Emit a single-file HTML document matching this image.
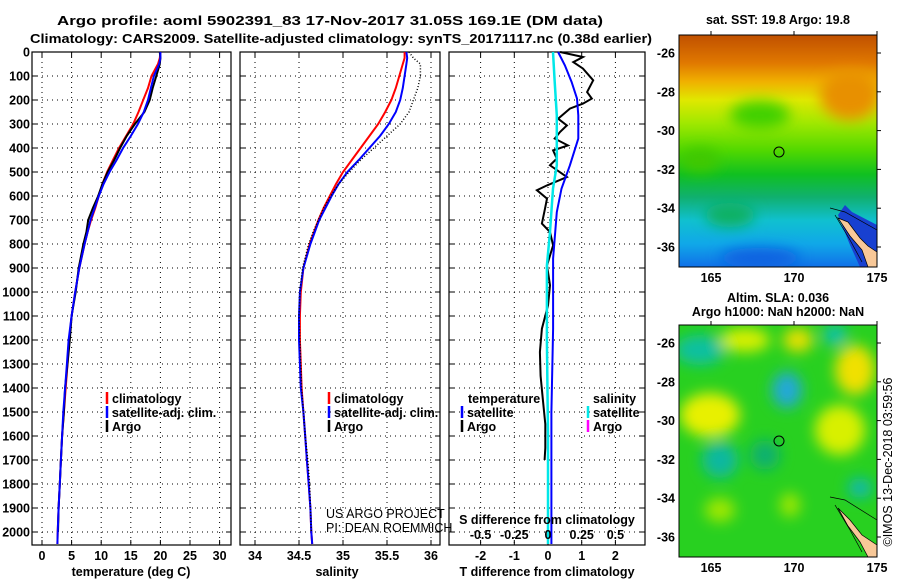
<!DOCTYPE html>
<html><head><meta charset="utf-8"><style>
html,body{margin:0;padding:0;background:#fff;}
svg{display:block;font-family:"Liberation Sans",sans-serif;}
.b{font-weight:bold;font-size:12.5px;}
</style></head><body>
<svg id="chart" width="900" height="580" viewBox="0 0 900 580">
<defs>
<linearGradient id="sstg" x1="0" y1="0" x2="0" y2="1">
<stop offset="0" stop-color="#c05000"/><stop offset="0.12" stop-color="#e07800"/>
<stop offset="0.2" stop-color="#f0b000"/><stop offset="0.28" stop-color="#e0e800"/>
<stop offset="0.38" stop-color="#a0e800"/><stop offset="0.5" stop-color="#50d800"/>
<stop offset="0.6" stop-color="#10c020"/><stop offset="0.7" stop-color="#10b070"/>
<stop offset="0.8" stop-color="#10c0d0"/><stop offset="0.9" stop-color="#10a8e8"/>
<stop offset="1" stop-color="#1070e8"/></linearGradient>
<filter id="blur"><feGaussianBlur stdDeviation="7"/></filter>
<clipPath id="c1"><rect x="679" y="35" width="198" height="232"/></clipPath>
<clipPath id="c2"><rect x="679" y="325" width="198" height="232"/></clipPath>
</defs>
<text class="b" x="330" y="25" text-anchor="middle" font-size="15" textLength="546" lengthAdjust="spacingAndGlyphs">Argo profile: aoml 5902391_83 17-Nov-2017 31.05S 169.1E (DM data)</text>
<text class="b" x="341" y="43" text-anchor="middle" font-size="15" textLength="622" lengthAdjust="spacingAndGlyphs">Climatology: CARS2009. Satellite-adjusted climatology: synTS_20171117.nc (0.38d earlier)</text>
<g id="panels"></g>
<g id="maps">
<g clip-path="url(#c1)">
<rect x="679" y="35" width="198" height="232" fill="url(#sstg)"/>
<g filter="url(#blur)">
<ellipse cx="850" cy="95" rx="30" ry="25" fill="#e89000"/>
<ellipse cx="760" cy="115" rx="30" ry="14" fill="#40d000"/>
<ellipse cx="700" cy="160" rx="20" ry="12" fill="#40c800"/>
<ellipse cx="730" cy="215" rx="25" ry="12" fill="#10b060"/>
<ellipse cx="760" cy="258" rx="40" ry="10" fill="#1060e0"/>
</g>
<path d="M838,215 L845,205 L852,212 L877,225 L877,267 L860,267 L850,245 Z" fill="#1840d0"/>
<path d="M838,218 L848,222 L860,238 L868,246 L877,252 L877,267 L868,267 L862,250 L850,236 Z" fill="#f8c898" stroke="#000" stroke-width="0.7"/>
<path d="M830,208 L845,212 L877,230" fill="none" stroke="#000" stroke-width="0.7"/>
<path d="M835,215 L850,240 L862,262" fill="none" stroke="#000" stroke-width="0.7"/>
<circle cx="779" cy="152" r="5" fill="none" stroke="#000" stroke-width="1"/>
</g>
<rect x="679" y="35" width="198" height="232" fill="none" stroke="#000"/>
<g clip-path="url(#c2)">
<rect x="679" y="325" width="198" height="232" fill="#28d020"/>
<g filter="url(#blur)">
<ellipse cx="700" cy="350" rx="25" ry="15" fill="#10c0a0"/>
<ellipse cx="745" cy="340" rx="25" ry="12" fill="#d8f000"/>
<ellipse cx="798" cy="340" rx="15" ry="12" fill="#e8e000"/>
<ellipse cx="835" cy="335" rx="12" ry="10" fill="#10c0b0"/>
<ellipse cx="855" cy="370" rx="20" ry="25" fill="#f0e000"/>
<ellipse cx="787" cy="390" rx="15" ry="18" fill="#20a8d8"/>
<ellipse cx="710" cy="415" rx="30" ry="22" fill="#e8f000"/>
<ellipse cx="840" cy="430" rx="25" ry="25" fill="#d8f000"/>
<ellipse cx="720" cy="460" rx="18" ry="18" fill="#10b8a0"/>
<ellipse cx="765" cy="455" rx="15" ry="15" fill="#10b070"/>
<ellipse cx="860" cy="488" rx="12" ry="10" fill="#10b8b0"/>
<ellipse cx="720" cy="510" rx="15" ry="12" fill="#a0e800"/>
<ellipse cx="790" cy="505" rx="10" ry="12" fill="#a0e800"/>
</g>
<path d="M838,508 L850,520 L862,535 L877,545 L877,557 L868,557 L860,542 L848,526 Z" fill="#f8c898" stroke="#000" stroke-width="0.7"/>
<path d="M830,497 L845,500 L877,520" fill="none" stroke="#000" stroke-width="0.7"/>
<path d="M835,505 L850,530 L862,552" fill="none" stroke="#000" stroke-width="0.7"/>
<circle cx="779" cy="441" r="5" fill="none" stroke="#000" stroke-width="1"/>
</g>
<rect x="679" y="325" width="198" height="232" fill="none" stroke="#000"/>
<text class="b" x="778" y="24" text-anchor="middle">sat. SST: 19.8 Argo: 19.8</text>
<text class="b" x="778" y="302" text-anchor="middle">Altim. SLA: 0.036</text>
<text class="b" x="778" y="316" text-anchor="middle">Argo h1000: NaN h2000: NaN</text>
<text x="892" y="462" font-size="12.5" text-anchor="middle" transform="rotate(-90 892 462)">©IMOS 13-Dec-2018 03:59:56</text>
</g>
</svg>
<script>
// Profile data
const depths = [0,25,50,100,150,200,250,300,350,400,450,500,550,600,650,700,750,800,900,1000,1100,1200,1300,1400,1500,1600,1700,1800,1900,2000,2050];
const tempClim = [20.0,19.9,19.6,18.5,17.9,17.1,16.3,15.4,14.2,13.0,12.0,11.0,10.2,9.6,9.0,8.3,7.7,7.2,6.3,5.6,5.0,4.6,4.3,4.0,3.7,3.4,3.2,3.0,2.8,2.65,2.6];
const tempSat = [20.0,20.0,19.8,18.9,18.4,17.9,17.2,16.2,15.0,13.7,12.6,11.4,10.4,9.6,8.9,8.2,7.7,7.2,6.3,5.6,5.0,4.5,4.2,3.9,3.6,3.4,3.2,3.0,2.8,2.65,2.6];
const argoDepths = [0,25,50,100,150,200,250,300,350,400,450,500,550,600,650,700,750,800,900,1000,1100,1200,1300,1400,1500,1600,1700,1800,1900,2000];
const tempArgo = [19.9,20.0,19.9,19.3,18.7,18.2,17.3,15.7,14.3,13.2,12.2,11.1,10.2,9.5,8.6,7.8,7.5,7.0,6.2,5.7,5.0,4.7,4.3,3.9,3.7,3.4,3.2,3.0,2.8,2.7];
const salClim = [35.7,35.7,35.68,35.64,35.6,35.55,35.48,35.4,35.3,35.2,35.1,35.0,34.92,34.85,34.78,34.72,34.67,34.62,34.55,34.52,34.51,34.51,34.52,34.53,34.55,34.57,34.59,34.61,34.63,34.64,34.65];
const salSat = [35.72,35.73,35.72,35.7,35.68,35.65,35.6,35.52,35.42,35.3,35.18,35.05,34.95,34.87,34.8,34.73,34.68,34.63,34.55,34.51,34.5,34.5,34.51,34.52,34.55,34.57,34.59,34.61,34.63,34.64,34.65];
const salArgo = [35.75,35.8,35.88,35.88,35.85,35.8,35.75,35.65,35.5,35.35,35.2,35.07,34.95,34.86,34.78,34.72,34.66,34.61,34.54,34.51,34.5,34.51,34.52,34.53,34.55,34.57,34.6,34.62,34.63,34.64];
const tdArgoDepth = [0,21,42,69,118,167,194,215,236,278,306,333,361,389,410,444,472,521,556,576,611,653,715,750,806,889,972,1056,1153,1250,1350,1450,1550,1650,1700];
const tdArgo = [0.36,1.04,0.75,1.04,1.34,1.16,1.3,1.04,0.65,0.3,0.56,0.36,0.2,0.59,0.15,0.26,0.06,0.56,-0.03,-0.33,-0.03,-0.09,-0.18,0.06,0.15,-0.03,0.06,0.0,-0.18,-0.24,-0.22,-0.15,-0.08,-0.08,-0.1];
const tdSatDepth = [0,56,125,194,264,361,472,569,667,861,1153,1500,2000,2050];
const tdSat = [0.3,0.5,0.7,0.86,0.9,0.9,0.65,0.4,0.26,0.15,0.15,0.1,0.1,0.1];
const sdSatDepth = [0,125,264,472,569,750,889,1200,1600,2000,2050];
const sdSat = [0.037,0.05,0.065,0.065,0.037,0.015,-0.008,-0.008,0.0,0.0,0.0];
const depthTicks = [0,100,200,300,400,500,600,700,800,900,1000,1100,1200,1300,1400,1500,1600,1700,1800,1900,2000];
const tempTicks = [0,5,10,15,20,25,30];
const salTicks = [34,34.5,35,35.5,36];
const salTickLabels = ["34","34.5","35","35.5","36"];
const tdTicks = [-2,-1,0,1,2];
const sdTicks = [-0.5,-0.25,0,0.25,0.5];
const sdTickLabels = ["-0.5","-0.25","0","0.25","0.5"];

const NS='http://www.w3.org/2000/svg';
const g=document.getElementById('panels');
function mk(tag,attrs,parent){const e=document.createElementNS(NS,tag);for(const k in attrs)e.setAttribute(k,attrs[k]);(parent||g).appendChild(e);return e;}
const yD=d=>52+d*0.24;
const xT=t=>42+t*5.92;
const xS=s=>255+(s-34)*88;
const xD=t=>548+t*33.7;
const TOP=52,BOT=545;
function frame(x0,x1,name,ticks,fx,labels,showY){
  const grp=mk('g',{});
  
  
  depthTicks.forEach(d=>{
    mk('line',{x1:x0,x2:x1,y1:yD(d),y2:yD(d),stroke:'#000','stroke-dasharray':'1,4','stroke-width':1},grp);
    mk('line',{x1:x0,x2:x0+5,y1:yD(d),y2:yD(d),stroke:'#000'},grp);
    mk('line',{x1:x1-5,x2:x1,y1:yD(d),y2:yD(d),stroke:'#000'},grp);
    if(showY){const t=mk('text',{x:x0-2,y:yD(d)+4.5,'text-anchor':'end',class:'b'},grp);t.textContent=d;
      
      }
  });
  ticks.forEach((v,i)=>{
    const x=fx(v);
    mk('line',{x1:x,x2:x,y1:TOP,y2:BOT,stroke:'#000','stroke-dasharray':'1,4'},grp);
    mk('line',{x1:x,x2:x,y1:TOP,y2:TOP+5,stroke:'#000'},grp);
    mk('line',{x1:x,x2:x,y1:BOT-5,y2:BOT,stroke:'#000'},grp);
    const t=mk('text',{x:x,y:560,'text-anchor':'middle',class:'b'},grp);t.textContent=labels[i];
    
    
  });
  mk('rect',{x:x0,y:TOP,width:x1-x0,height:BOT-TOP,fill:'none',stroke:'#000','stroke-width':1.2},grp);
  return grp;
}
function line(xs,ds,fx,color,name,w,dash){
  const pts=xs.map((v,i)=>fx(v).toFixed(1)+','+yD(ds[i]).toFixed(1)).join(' ');
  const p=mk('polyline',{points:pts,fill:'none',stroke:color,'stroke-width':w||2});
  if(dash)p.setAttribute('stroke-dasharray',dash);
  
  
}
function txt(x,y,s,name,extra){const t=mk('text',Object.assign({x:x,y:y,class:'b'},extra||{}));t.textContent=s;
  
  return t;}
function legend(x,y,col,s,name){mk('line',{x1:x,x2:x,y1:y-11,y2:y+1,stroke:col,'stroke-width':2.5});txt(x+5,y,s,name);}

// Panel 1
frame(32,231,'temperature-panel',tempTicks,xT,tempTicks.map(String),true);
line(tempClim,depths,xT,'#ff0000','temp-climatology-line');
line(tempArgo,argoDepths,xT,'#000000','temp-argo-line');
line(tempSat,depths,xT,'#0000ff','temp-satellite-line');
txt(131,576,'temperature (deg C)','temperature-axis-title',{'text-anchor':'middle'});
legend(107,403,'#ff0000','climatology','legend-climatology');
legend(107,417,'#0000ff','satellite-adj. clim.','legend-satellite');
legend(107,431,'#000','Argo','legend-argo');

// Panel 2
frame(240,440,'salinity-panel',salTicks,xS,salTickLabels,false);
line(salClim,depths,xS,'#ff0000','sal-climatology-line');
line(salSat,depths,xS,'#0000ff','sal-satellite-line');
line(salArgo,argoDepths,xS,'#000','sal-argo-line',1.5,'1,2');
txt(337,576,'salinity','salinity-axis-title',{'text-anchor':'middle'});
legend(329,403,'#ff0000','climatology','legend-climatology-2');
legend(329,417,'#0000ff','satellite-adj. clim.','legend-satellite-2');
legend(329,431,'#000','Argo','legend-argo-2');
txt(326,518,'US ARGO PROJECT','credit-project',{style:'font-weight:normal','font-size':'12'});
txt(326,532,'PI: DEAN ROEMMICH','credit-pi',{style:'font-weight:normal','font-size':'12'});

// Panel 3
frame(449,645,'difference-panel',tdTicks,xD,tdTicks.map(String),false);
line(tdArgo,tdArgoDepth,xD,'#000','tdiff-argo-line');
line(tdSat,tdSatDepth,xD,'#0000ff','tdiff-satellite-line');
line(sdSat.map(v=>v*4),sdSatDepth,xD,'#00e8e8','sdiff-satellite-line',2.5);
sdTicks.forEach((v,i)=>{txt(xD(v*4),539,sdTickLabels[i],'s-tick-label',{'text-anchor':'middle'});});
txt(547,524,'S difference from climatology','s-axis-title',{'text-anchor':'middle'});
txt(547,576,'T difference from climatology','t-axis-title',{'text-anchor':'middle'});
txt(468,403,'temperature','legend-temperature-header');
txt(593,403,'salinity','legend-salinity-header');
legend(462,417,'#0000ff','satellite','legend-t-satellite');
legend(462,431,'#000','Argo','legend-t-argo');
legend(588,417,'#00e8e8','satellite','legend-s-satellite');
legend(588,431,'#ff00ff','Argo','legend-s-argo');

// Map axes
function mapAxes(y0,y1,latTop,name){
  const grp=mk('g',{},document.getElementById('maps'));
  
  
  [165,170,175].forEach(l=>{const x=711+(l-165)*16.6;
    mk('line',{x1:x,x2:x,y1:y0-4,y2:y0,stroke:'#000'},grp);
    const t=mk('text',{x:x,y:y1+15,'text-anchor':'middle',class:'b'},grp);t.textContent=l;
    
    });
  [-26,-28,-30,-32,-34,-36].forEach(l=>{const y=latTop+(-26-l)*19.4;
    mk('line',{x1:877,x2:881,y1:y,y2:y,stroke:'#000'},grp);
    const t=mk('text',{x:675,y:y+4.5,'text-anchor':'end',class:'b'},grp);t.textContent=l;
    
    });
}
mapAxes(35,267,53,'sst-map-axes');
mapAxes(325,557,343,'sla-map-axes');
</script>
</body></html>
